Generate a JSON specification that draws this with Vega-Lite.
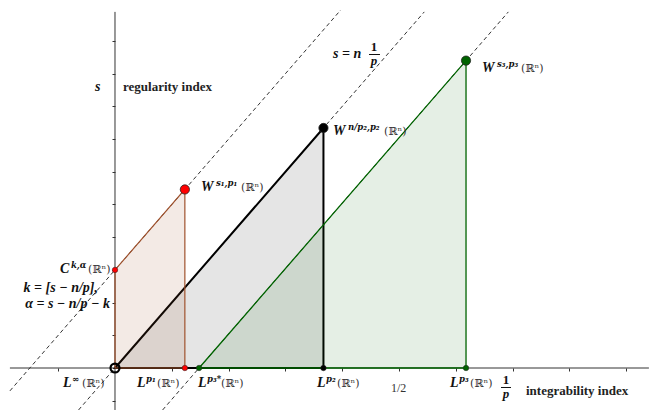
{
  "$schema": "https://vega.github.io/schema/vega-lite/v6.json",
  "width": 649,
  "height": 410,
  "autosize": {"type": "none"},
  "padding": 0,
  "background": "white",
  "config": {"view": {"stroke": null}, "text": {"font": "Liberation Serif"}},
  "datasets": {
    "lines": [
      {"line": "l1", "x": -0.185, "y": -0.07},
      {"line": "l1", "x": 0.3974, "y": 1.0948},
      {"line": "l2", "x": -0.0642, "y": -0.1284},
      {"line": "l2", "x": 0.5445, "y": 1.089},
      {"line": "l3", "x": 0.0838, "y": -0.1284},
      {"line": "l3", "x": 0.6925, "y": 1.089}
    ],
    "polys": [
      {"poly": "gray", "i": 0, "x": 0, "y": 0},
      {"poly": "gray", "i": 1, "x": 0.367, "y": 0.734},
      {"poly": "gray", "i": 2, "x": 0.367, "y": 0},
      {"poly": "brown", "i": 0, "x": 0, "y": 0},
      {"poly": "brown", "i": 1, "x": 0, "y": 0.3},
      {"poly": "brown", "i": 2, "x": 0.123, "y": 0.546},
      {"poly": "brown", "i": 3, "x": 0.123, "y": 0},
      {"poly": "green", "i": 0, "x": 0.148, "y": 0},
      {"poly": "green", "i": 1, "x": 0.618, "y": 0.94},
      {"poly": "green", "i": 2, "x": 0.618, "y": 0}
    ],
    "bigpts": [
      {"set": "brown", "x": 0.123, "y": 0.546},
      {"set": "gray", "x": 0.367, "y": 0.734},
      {"set": "green", "x": 0.618, "y": 0.94}
    ],
    "smallpts": [
      {"set": "brown", "x": 0, "y": 0.3},
      {"set": "brown", "x": 0.123, "y": 0},
      {"set": "gray", "x": 0.367, "y": 0},
      {"set": "green", "x": 0.148, "y": 0},
      {"set": "green", "x": 0.618, "y": 0}
    ],
    "base": [
      {"t": "W", "x": 0.1514, "y": 0.5413},
      {"t": "W", "x": 0.3838, "y": 0.7125},
      {"t": "W", "x": 0.6461, "y": 0.9052},
      {"t": "C", "x": -0.0968, "y": 0.2905},
      {"t": "L", "x": -0.0915, "y": -0.0581},
      {"t": "L", "x": 0.0387, "y": -0.0581},
      {"t": "L", "x": 0.1461, "y": -0.0581},
      {"t": "L", "x": 0.3556, "y": -0.0581},
      {"t": "L", "x": 0.5898, "y": -0.0581}
    ],
    "sup": [
      {"t": "s₁,p₁", "x": 0.1778, "y": 0.5566},
      {"t": "n/p₂,p₂", "x": 0.4102, "y": 0.7278},
      {"t": "s₃,p₃", "x": 0.6725, "y": 0.9205},
      {"t": "k,α", "x": -0.0775, "y": 0.3058},
      {"t": "∞", "x": -0.0757, "y": -0.0428},
      {"t": "p₁", "x": 0.0546, "y": -0.0428},
      {"t": "p₃*", "x": 0.162, "y": -0.0428},
      {"t": "p₂", "x": 0.3715, "y": -0.0428},
      {"t": "p₃", "x": 0.6056, "y": -0.0428}
    ],
    "rest": [
      {"t": "(ℝⁿ)", "x": 0.2218, "y": 0.5413},
      {"t": "(ℝⁿ)", "x": 0.4736, "y": 0.7125},
      {"t": "(ℝⁿ)", "x": 0.7148, "y": 0.9052},
      {"t": "(ℝⁿ)", "x": -0.0475, "y": 0.2905},
      {"t": "(ℝⁿ)", "x": -0.0581, "y": -0.0581},
      {"t": "(ℝⁿ)", "x": 0.0739, "y": -0.0581},
      {"t": "(ℝⁿ)", "x": 0.1866, "y": -0.0581},
      {"t": "(ℝⁿ)", "x": 0.3908, "y": -0.0581},
      {"t": "(ℝⁿ)", "x": 0.625, "y": -0.0581}
    ],
    "mathright": [
      {"t": "k = [s − n/p],", "x": -0.0299, "y": 0.2324},
      {"t": "α = s − n/p − k", "x": -0.0088, "y": 0.1835}
    ],
    "mathleft": [
      {"t": "s", "x": -0.0352, "y": 0.8471},
      {"t": "s = n", "x": 0.3838, "y": 0.948}
    ],
    "fracnum": [
      {"t": "1", "x": 0.456, "y": 0.961},
      {"t": "1", "x": 0.6884, "y": -0.0566}
    ],
    "fracden": [
      {"t": "p", "x": 0.456, "y": 0.9557},
      {"t": "p", "x": 0.6884, "y": -0.0612}
    ],
    "fracbars": [
      {"x": 0.4472, "x2": 0.4665, "y": 0.9587},
      {"x": 0.6796, "x2": 0.6972, "y": -0.0596}
    ],
    "words": [
      {"t": "regularity index", "x": 0.0141, "y": 0.8471},
      {"t": "integrability index", "x": 0.7236, "y": -0.0826}
    ],
    "plain": [
      {"t": "1/2", "x": 0.4859, "y": -0.0734}
    ]
  },
  "encoding": {
    "x": {
      "field": "x", "type": "quantitative",
      "scale": {"domain": [-0.20246, 0.94014], "nice": false, "zero": false},
      "axis": {"orient": "bottom", "offset": -42, "domain": false, "labels": false, "grid": false, "title": null, "ticks": true, "tickSize": 3, "tickColor": "#333", "values": [-0.1, 0.1, 0.2, 0.3, 0.4, 0.5, 0.6, 0.7, 0.8, 0.9]}
    },
    "y": {
      "field": "y", "type": "quantitative",
      "scale": {"domain": [-0.12844, 1.12538], "nice": false, "zero": false},
      "axis": {"orient": "left", "offset": -115, "domain": false, "labels": false, "grid": false, "title": null, "ticks": true, "tickSize": 3, "tickColor": "#333", "values": [-0.1, 0.1, 0.2, 0.3, 0.4, 0.5, 0.6, 0.7, 0.8, 0.9, 1.0]}
    }
  },
  "layer": [
    {
      "data": {"name": "lines"},
      "mark": {"type": "line", "color": "#333", "strokeWidth": 1, "strokeDash": [4, 3]},
      "encoding": {"detail": {"field": "line"}}
    },
    {
      "data": {"values": [{"x": -0.185, "x2": 0.94, "y": 0}]},
      "mark": {"type": "rule", "color": "#333", "strokeWidth": 1},
      "encoding": {"x2": {"field": "x2"}}
    },
    {
      "data": {"values": [{"x": 0, "y": -0.1284, "y2": 1.089}]},
      "mark": {"type": "rule", "color": "#333", "strokeWidth": 1},
      "encoding": {"y2": {"field": "y2"}}
    },
    {
      "data": {"name": "polys"},
      "transform": [{"filter": "datum.poly === 'gray'"}],
      "mark": {"type": "line", "interpolate": "linear-closed", "stroke": "#000000", "strokeWidth": 2, "fill": "#000000", "fillOpacity": 0.1},
      "encoding": {"order": {"field": "i", "type": "quantitative"}}
    },
    {
      "data": {"name": "polys"},
      "transform": [{"filter": "datum.poly === 'brown'"}],
      "mark": {"type": "line", "interpolate": "linear-closed", "stroke": "#a0522d", "strokeWidth": 1.2, "fill": "#a0522d", "fillOpacity": 0.12},
      "encoding": {"order": {"field": "i", "type": "quantitative"}}
    },
    {
      "data": {"name": "polys"},
      "transform": [{"filter": "datum.poly === 'green'"}],
      "mark": {"type": "line", "interpolate": "linear-closed", "stroke": "#006400", "strokeWidth": 1.3, "fill": "#006400", "fillOpacity": 0.1},
      "encoding": {"order": {"field": "i", "type": "quantitative"}}
    },
    {
      "data": {"name": "bigpts"},
      "mark": {"type": "circle", "size": 85, "opacity": 1, "stroke": "#222", "strokeWidth": 0.8},
      "encoding": {"color": {"field": "set", "type": "nominal", "legend": null, "scale": {"domain": ["brown", "gray", "green"], "range": ["#ff0000", "#000000", "#006400"]}}}
    },
    {
      "data": {"name": "smallpts"},
      "mark": {"type": "circle", "size": 30, "opacity": 1, "stroke": "#222", "strokeWidth": 0.5},
      "encoding": {"color": {"field": "set", "type": "nominal", "legend": null, "scale": {"domain": ["brown", "gray", "green"], "range": ["#ff0000", "#000000", "#006400"]}}}
    },
    {
      "data": {"values": [{"x": 0, "y": 0}]},
      "mark": {"type": "point", "shape": "circle", "size": 80, "filled": false, "stroke": "#000", "strokeWidth": 2.2, "opacity": 1}
    },
    {
      "data": {"name": "base"},
      "mark": {"type": "text", "align": "left", "baseline": "alphabetic", "fontSize": 14, "fontWeight": "bold", "fontStyle": "italic", "color": "#111"},
      "encoding": {"text": {"field": "t"}}
    },
    {
      "data": {"name": "sup"},
      "mark": {"type": "text", "align": "left", "baseline": "alphabetic", "font": "DejaVu Serif", "fontSize": 8.5, "fontWeight": "bold", "fontStyle": "italic", "color": "#111"},
      "encoding": {"text": {"field": "t"}}
    },
    {
      "data": {"name": "rest"},
      "mark": {"type": "text", "align": "left", "baseline": "alphabetic", "font": "DejaVu Serif", "fontSize": 11, "color": "#333"},
      "encoding": {"text": {"field": "t"}}
    },
    {
      "data": {"name": "mathright"},
      "mark": {"type": "text", "align": "right", "baseline": "alphabetic", "fontSize": 14, "fontWeight": "bold", "fontStyle": "italic", "color": "#111"},
      "encoding": {"text": {"field": "t"}}
    },
    {
      "data": {"name": "mathleft"},
      "mark": {"type": "text", "align": "left", "baseline": "alphabetic", "fontSize": 14, "fontWeight": "bold", "fontStyle": "italic", "color": "#111"},
      "encoding": {"text": {"field": "t"}}
    },
    {
      "data": {"name": "fracnum"},
      "mark": {"type": "text", "align": "center", "baseline": "bottom", "fontSize": 13, "fontWeight": "bold", "color": "#111"},
      "encoding": {"text": {"field": "t"}}
    },
    {
      "data": {"name": "fracden"},
      "mark": {"type": "text", "align": "center", "baseline": "top", "fontSize": 13, "fontWeight": "bold", "fontStyle": "italic", "color": "#111"},
      "encoding": {"text": {"field": "t"}}
    },
    {
      "data": {"name": "fracbars"},
      "mark": {"type": "rule", "color": "#111", "strokeWidth": 1},
      "encoding": {"x2": {"field": "x2"}}
    },
    {
      "data": {"name": "words"},
      "mark": {"type": "text", "align": "left", "baseline": "alphabetic", "fontSize": 13, "fontWeight": "bold", "color": "#222"},
      "encoding": {"text": {"field": "t"}}
    },
    {
      "data": {"name": "plain"},
      "mark": {"type": "text", "align": "left", "baseline": "alphabetic", "fontSize": 12, "color": "#333"},
      "encoding": {"text": {"field": "t"}}
    }
  ]
}
